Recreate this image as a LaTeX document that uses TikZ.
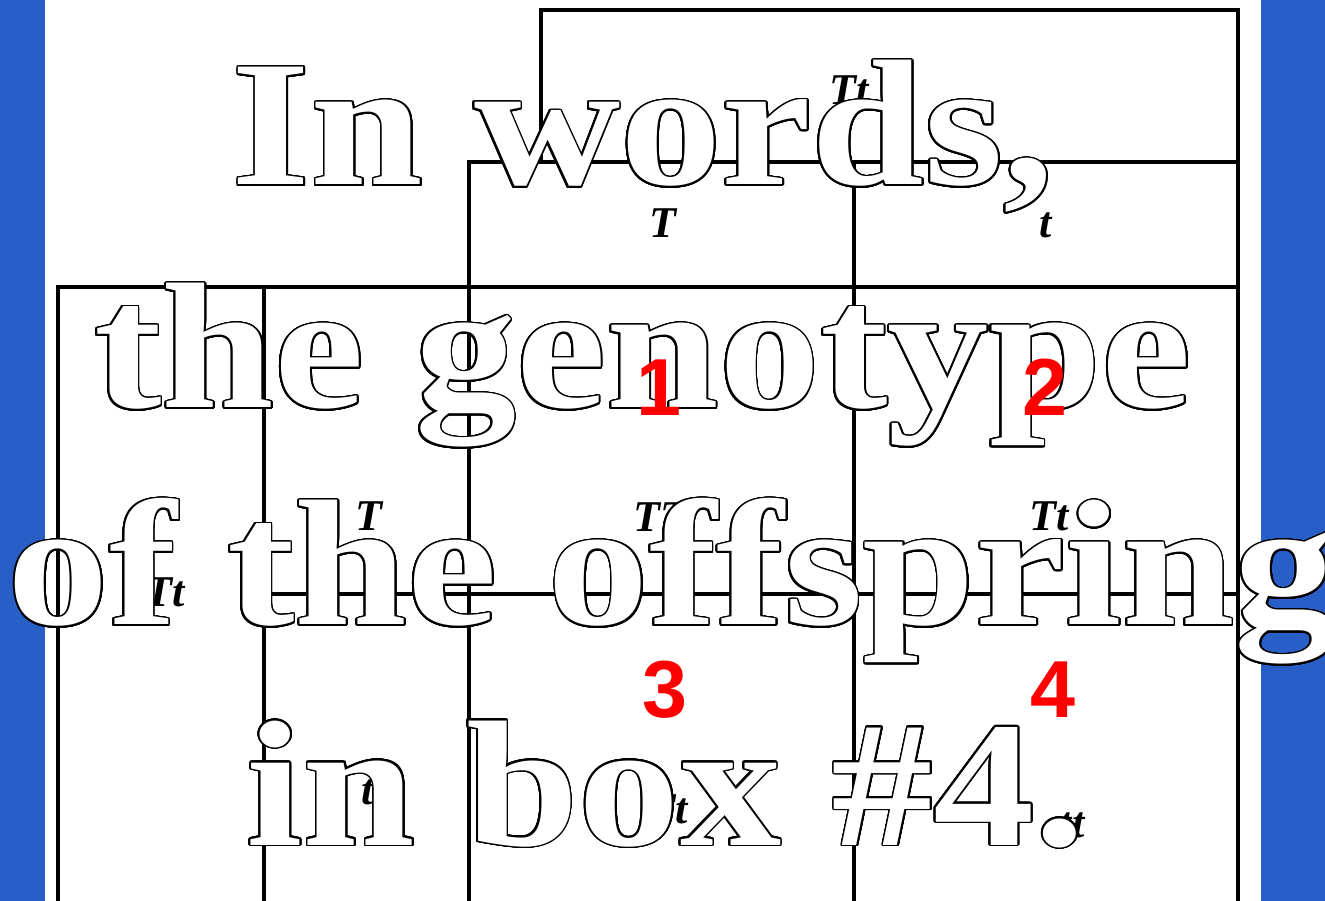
\documentclass[tikz,border=0pt]{standalone}
\usepackage{fontspec}
\usepackage{contour}
\newfontfamily\wordfont{Liberation Serif}[FakeStretch=1.13]
\newfontfamily\labelfont{Liberation Serif}
\newfontfamily\numfont{Liberation Sans}
\definecolor{sideblue}{RGB}{41,94,199}
\contourlength{0.5pt}
\contournumber{32}
\tikzset{
  gridline/.style={line width=0.9pt},
  allele/.style={font=\labelfont\bfseries\itshape\fontsize{12.5}{14}\selectfont, inner sep=0pt},
  boxnum/.style={font=\numfont\bfseries\fontsize{23}{26}\selectfont, text=red, inner sep=0pt},
  bigword/.style={font=\wordfont\bfseries\fontsize{51}{56}\selectfont, text=white, anchor=base, inner sep=0pt}
}
\begin{document}
\begin{tikzpicture}[x=0.01cm,y=-0.01cm]

\useasboundingbox (0,0) rectangle (1325,901);

% Bandes
\fill[sideblue] (0,0) rectangle (45,901);
\fill[sideblue] (1261,0) rectangle (1325,901);

% Grille
\draw[gridline] (541,10) rectangle (1238,162);
\draw[gridline] (469,162) rectangle (1238,287);
\draw[gridline] (854,162) -- (854,287);
\draw[gridline] (58,901) -- (58,287) -- (1238,287) -- (1238,901);
\foreach \x in {264,469,854}
{
    \draw[gridline] (\x,287) -- (\x,901);
}
\draw[gridline] (264,594) -- (1238,594);

% Allèles
\node[allele] (top) at (849,90) {Tt};
\node[allele] (rowa) at (663,223) {T};
\node[allele] (rowb) at (1046,225) {t};
\node[allele] (left) at (165,592) {Tt};
\node[allele] (cola) at (369,516) {T};
\node[allele] (colb) at (368,792) {t};

\foreach \x/\y/\g in {
660/517/TT,1049/516/Tt,
668/809/Tt,1072/825/tt
}
{
    \node[allele] at (\x,\y) {\g};
}

% Texte
\node[bigword] (ligne1) at (643,185) {\contour{black}{In words,}};
\node[bigword] (ligne2) at (643,408) {\contour{black}{the genotype}};
\node[bigword] (ligne3) at (672,625) {\contour{black}{of the offspring}};
\node[bigword] (ligne4) at (666,845) {\contour{black}{in box \#4.}};

% Numéros
\node[boxnum] (num1) at (659,388) {1};
\node[boxnum] (num2) at (1045,387) {2};
\node[boxnum] (num3) at (665,690) {3};
\node[boxnum] (num4) at (1053,690) {4};

\end{tikzpicture}
\end{document}
